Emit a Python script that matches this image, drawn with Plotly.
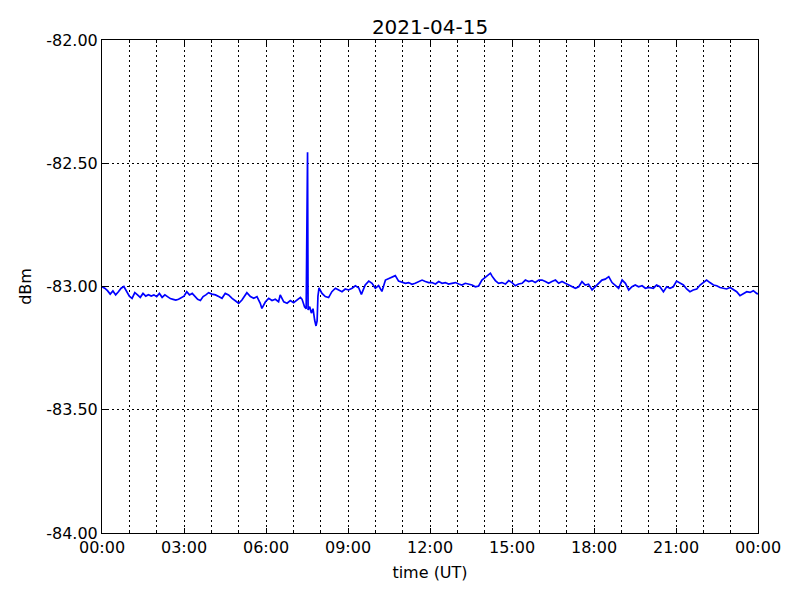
import pandas as pd
import plotly.graph_objects as go

# Time of day (hours UT) and received level (dBm)
hours = [
    0.0, 0.1, 0.2, 0.3, 0.4, 0.5, 0.6, 0.7, 0.8, 0.9,
    1.0, 1.1, 1.2, 1.3, 1.4, 1.5, 1.6, 1.7, 1.8, 1.9,
    2.0, 2.1, 2.2, 2.3, 2.4, 2.5, 2.6, 2.7, 2.8, 2.9,
    3.0, 3.1, 3.2, 3.3, 3.4, 3.5, 3.6, 3.7, 3.8, 3.9,
    4.02, 4.15, 4.27, 4.39, 4.51, 4.63, 4.76, 4.88, 5.00, 5.12,
    5.24, 5.30, 5.43, 5.55, 5.67, 5.79, 5.85, 5.98, 6.10, 6.22,
    6.34, 6.46, 6.52, 6.65, 6.77, 6.89, 7.01, 7.13, 7.26, 7.32,
    7.41, 7.47, 7.50, 7.52, 7.54, 7.60, 7.66, 7.72, 7.78, 7.83,
    7.87, 7.90, 7.94, 8.00,
    8.05, 8.17, 8.29, 8.41, 8.54, 8.66, 8.78, 8.90, 9.02, 9.15,
    9.27, 9.39, 9.49, 9.63, 9.76, 9.88, 10.00, 10.12, 10.24, 10.37,
    10.49, 10.61, 10.73, 10.85, 10.98, 11.10, 11.22, 11.34, 11.46, 11.59,
    11.71, 11.83, 11.95,
    12.07, 12.20, 12.32, 12.44, 12.56, 12.68, 12.80, 12.93, 13.05, 13.17,
    13.29, 13.41, 13.54, 13.66, 13.78, 13.90, 14.02, 14.15, 14.21, 14.27,
    14.39, 14.51, 14.63, 14.76, 14.88, 15.00, 15.12, 15.24, 15.37, 15.49,
    15.61, 15.73, 15.85, 15.98,
    16.10, 16.22, 16.34, 16.46, 16.59, 16.71, 16.83, 16.95, 17.07, 17.20,
    17.32, 17.44, 17.56, 17.68, 17.80, 17.93, 18.05, 18.17, 18.29, 18.41,
    18.54, 18.66, 18.78, 18.90, 19.03, 19.15, 19.27, 19.39, 19.51, 19.63,
    19.76, 19.88, 20.00,
    20.05, 20.17, 20.29, 20.41, 20.54, 20.66, 20.78, 20.90, 21.02, 21.15,
    21.27, 21.39, 21.51, 21.63, 21.76, 21.88, 22.00, 22.12, 22.24, 22.37,
    22.49, 22.61, 22.73, 22.85, 22.98, 23.10, 23.22, 23.34, 23.46, 23.59,
    23.71, 23.83, 23.95, 24.0,
]

dbm = [
    -83.001, -83.007, -83.017, -83.031, -83.018, -83.034, -83.021, -83.007, -83.000, -83.017,
    -83.039, -83.048, -83.025, -83.034, -83.044, -83.028, -83.039, -83.033, -83.039, -83.034,
    -83.041, -83.028, -83.044, -83.034, -83.041, -83.049, -83.052, -83.055, -83.052, -83.046,
    -83.039, -83.021, -83.034, -83.028, -83.041, -83.052, -83.057, -83.041, -83.034, -83.025,
    -83.031, -83.034, -83.041, -83.048, -83.028, -83.034, -83.048, -83.057, -83.068, -83.055,
    -83.034, -83.025, -83.041, -83.048, -83.041, -83.068, -83.089, -83.062, -83.048, -83.057,
    -83.052, -83.062, -83.034, -83.062, -83.068, -83.057, -83.066, -83.055, -83.044, -83.052,
    -83.082, -83.090, -82.810, -82.455, -83.095, -83.082, -83.108, -83.090, -83.136, -83.160,
    -83.140, -83.040, -83.006, -83.020,
    -83.028, -83.041, -83.045, -83.021, -83.007, -83.014, -83.021, -83.010, -83.014, -83.007,
    -82.997, -83.005, -83.032, -82.994, -82.978, -82.987, -83.007, -82.996, -83.020, -82.974,
    -82.967, -82.960, -82.956, -82.978, -82.984, -82.987, -82.984, -82.991, -82.987, -82.980,
    -82.974, -82.980, -82.984,
    -82.984, -82.990, -82.980, -82.987, -82.984, -82.990, -82.987, -82.984, -82.990, -82.994,
    -82.987, -82.990, -82.994, -83.001, -82.998, -82.974, -82.963, -82.953, -82.946, -82.958,
    -82.976, -82.987, -82.984, -82.990, -82.976, -82.984, -82.997, -82.990, -82.987, -82.974,
    -82.980, -82.976, -82.984, -82.974,
    -82.974, -82.980, -82.987, -82.980, -82.974, -82.987, -82.980, -82.987, -82.994, -83.001,
    -83.007, -83.001, -82.980, -82.994, -82.991, -83.014, -83.001, -82.987, -82.974, -82.970,
    -82.960, -82.984, -82.994, -83.007, -82.974, -82.987, -83.014, -83.001, -82.994, -83.001,
    -82.997, -83.007, -83.004,
    -83.004, -83.007, -82.994, -83.001, -83.021, -83.001, -83.007, -83.001, -82.978, -82.987,
    -82.994, -83.010, -83.021, -83.014, -83.010, -82.994, -82.984, -82.974, -82.984, -82.994,
    -82.997, -83.004, -83.007, -83.010, -83.004, -83.014, -83.021, -83.037, -83.028, -83.021,
    -83.024, -83.017, -83.028, -83.030,
]

y_ticks = [-84.0, -83.5, -83.0, -82.5, -82.0]
y_tick_labels = ["-84.00", "-83.50", "-83.00", "-82.50", "-82.00"]
x_tick_labels = ["00:00", "03:00", "06:00", "09:00", "12:00", "15:00", "18:00", "21:00", "00:00"]

day = pd.Timestamp("2021-04-15")
times = [day + pd.Timedelta(hours=h) for h in hours]
x_ticks = [day + pd.Timedelta(hours=3 * i) for i in range(len(x_tick_labels))]

FONT = "DejaVu Sans"
GRID_DASH = "2px,3px"

fig = go.Figure()
fig.add_trace(go.Scatter(
    x=times, y=dbm, mode="lines",
    line=dict(color="#0000ff", width=1.7),
    showlegend=False,
))

fig.update_layout(
    width=800, height=600,
    margin=dict(l=102, r=42, t=40, b=67),
    paper_bgcolor="white", plot_bgcolor="white",
    font=dict(family=FONT, size=16, color="black"),
    title=dict(text="2021-04-15", x=0.5375, xanchor="center",
               xref="container", yref="container", y=1 - 27 / 600, yanchor="middle",
               font=dict(size=20, family=FONT, color="black")),
)

fig.update_xaxes(
    range=[day, day + pd.Timedelta(hours=24)],
    tickvals=x_ticks, ticktext=x_tick_labels,
    ticks="inside", ticklen=5, tickcolor="black", tickwidth=1,
    showline=True, linecolor="black", linewidth=1, mirror="allticks",
    showgrid=True, gridcolor="black", gridwidth=1, griddash=GRID_DASH,
    minor=dict(dtick=3600000, tick0=day, showgrid=True, gridcolor="black",
               gridwidth=1, griddash=GRID_DASH, ticks="inside", ticklen=3,
               tickcolor="black"),
    zeroline=False,
    tickfont=dict(size=16, family=FONT),
    title=dict(text="time (UT)", font=dict(size=16, family=FONT), standoff=10),
)

fig.update_yaxes(
    range=[-84, -82],
    tickvals=y_ticks, ticktext=y_tick_labels,
    ticks="inside", ticklen=5, tickcolor="black", tickwidth=1,
    showline=True, linecolor="black", linewidth=1, mirror="allticks",
    showgrid=True, gridcolor="black", gridwidth=1, griddash=GRID_DASH,
    zeroline=False,
    tickfont=dict(size=16, family=FONT),
    title=dict(text="dBm", font=dict(size=16, family=FONT), standoff=10),
)

fig.write_html("out.html", config={"displayModeBar": False},
               post_script="document.body.style.margin='0';")
